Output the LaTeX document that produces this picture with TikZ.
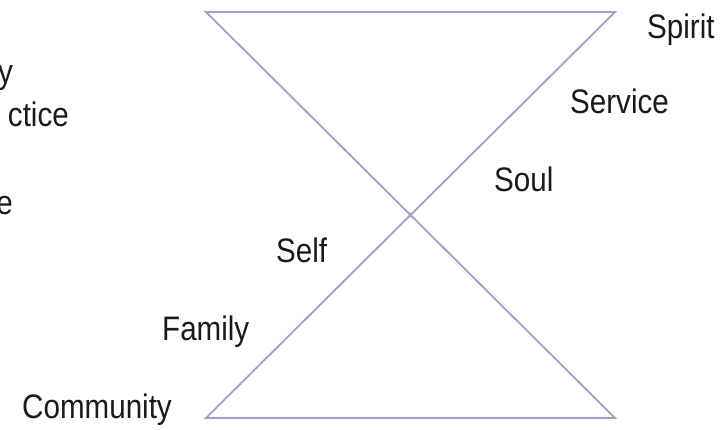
\documentclass[tikz,border=0pt]{standalone}
\usepackage{fontspec}
\setmainfont{Liberation Sans}[FakeStretch=0.87]
\definecolor{linec}{HTML}{A49CCF}
\definecolor{txtc}{HTML}{1A1A1A}
\begin{document}
\begin{tikzpicture}[x=1pt,y=-1pt,
  lbl/.style={inner sep=0pt,text=txtc,font=\fontsize{34}{40}\selectfont},
  edge/.style={draw=linec,line width=1.8pt,line join=miter}]
\useasboundingbox (0,0) rectangle (723,429);
\coordinate (tl) at (206,12);
\coordinate (tr) at (615,12);
\coordinate (bl) at (206,418);
\coordinate (br) at (615,418);
\draw[edge] (tl) -- (tr) -- (bl) -- (br) -- cycle;
\node[lbl,anchor=base west] (spirit) at (647,38) {Spirit};
\node[lbl,anchor=base west] (service) at (570,113) {Service};
\node[lbl,anchor=base west] (soul) at (494,191) {Soul};
\node[lbl,anchor=base west] (self) at (276,262) {Self};
\node[lbl,anchor=base west] (family) at (162,340) {Family};
\node[lbl,anchor=base east] (community) at (172,418) {Community};
\node[lbl,anchor=base east] (fy) at (13,83) {y};
\node[lbl,anchor=base east] (fctice) at (69,126) {ctice};
\node[lbl,anchor=base east] (fe) at (13,214) {e};
\end{tikzpicture}
\end{document}
